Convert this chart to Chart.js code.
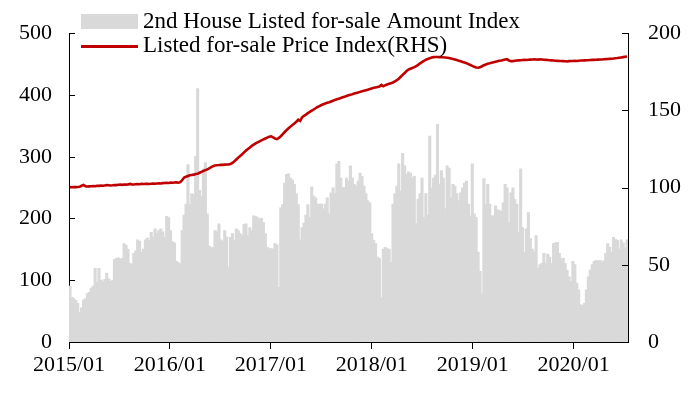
<!DOCTYPE html>
<html>
<head>
<meta charset="utf-8">
<script src="https://cdn.jsdelivr.net/npm/chart.js@4.4.0/dist/chart.umd.min.js"></script>
<style>
  html, body { margin: 0; padding: 0; background: #fff; }
  #wrap { width: 700px; height: 393px; }
</style>
</head>
<body>
<div id="wrap"><canvas id="chart"></canvas></div>
<script>
// Axis tick labels (one per January) and week spacing of those ticks
const yearLabels = ['2015/01', '2016/01', '2017/01', '2018/01', '2019/01', '2020/01'];
const weeksPerYear = 52.18;

// Weekly 2nd House Listed for-sale Amount Index (left axis)
const amount2015 = [90, 72, 70, 67, 62, 47, 55, 68, 70, 78,
  80, 87, 90, 119, 96, 119, 100, 97, 101, 111,
  102, 98, 100, 133, 135, 136, 134, 135, 159, 156,
  150, 127, 125, 143, 147, 165, 163, 145, 150, 165,
  168, 164, 177, 169, 183, 176, 180, 183, 178, 169,
  203, 201];
const amount2016 = [180, 162, 160, 130, 128, 126, 180, 205, 223, 287,
  222, 240, 238, 300, 410, 245, 235, 280, 290, 207,
  155, 152, 153, 180, 178, 191, 165, 163, 180, 170,
  121, 169, 175, 164, 183, 180, 175, 172, 190, 191,
  172, 185, 180, 204, 203, 201, 199, 200, 193, 175,
  153, 151];
const amount2017 = [151, 150, 159, 157, 88, 217, 222, 257, 271, 272,
  265, 262, 255, 240, 222, 165, 185, 192, 205, 222,
  201, 251, 236, 233, 223, 223, 223, 215, 223, 233,
  207, 241, 249, 240, 288, 292, 265, 249, 250, 265,
  260, 285, 265, 255, 252, 260, 273, 268, 252, 240,
  228, 225];
const amount2018 = [175, 164, 159, 137, 135, 71, 150, 153, 151, 150,
  128, 223, 240, 252, 288, 244, 305, 285, 271, 275,
  273, 265, 268, 191, 231, 240, 265, 201, 240, 205,
  333, 249, 265, 270, 352, 255, 277, 265, 215, 285,
  281, 233, 255, 252, 240, 228, 241, 249, 257, 260,
  223, 204];
const amount2019 = [288, 207, 201, 145, 114, 78, 264, 223, 255, 223,
  204, 204, 220, 214, 212, 212, 225, 255, 249, 193,
  241, 249, 230, 223, 177, 280, 185, 145, 183, 209,
  167, 150, 145, 172, 119, 125, 127, 143, 127, 142,
  137, 127, 159, 160, 161, 143, 135, 135, 127, 116,
  105, 98];
const amount2020 = [130, 125, 95, 84, 60, 59, 62, 84, 105, 116,
  125, 130, 132, 131, 132, 129, 131, 143, 159, 153,
  145, 169, 166, 164, 150, 165, 160, 152, 165];

// Weekly Listed for-sale Price Index (right axis)
const price2015 = [100.3, 100.2, 100.4, 100.3, 100.4, 100.5, 101.2, 101.7, 100.9, 100.7,
  100.8, 100.9, 101.0, 100.9, 101.2, 101.1, 101.3, 101.2, 101.4, 101.6,
  101.5, 101.4, 101.5, 101.7, 101.6, 101.8, 101.9, 101.8, 102.0, 101.9,
  102.0, 102.4, 102.1, 102.0, 102.2, 102.3, 102.2, 102.4, 102.3, 102.5,
  102.4, 102.3, 102.5, 102.6, 102.5, 102.7, 102.8, 102.7, 102.9, 103.0,
  103.1, 103.0];
const price2016 = [103.2, 103.1, 103.3, 103.4, 103.2, 103.5, 104.8, 106.5, 107.0, 107.5,
  108.0, 108.2, 108.4, 108.8, 109.0, 109.6, 110.2, 110.8, 111.3, 111.8,
  112.5, 113.2, 113.9, 114.3, 114.5, 114.6, 114.8, 114.7, 114.9, 115.0,
  115.0, 115.3, 116.0, 117.0, 118.2, 119.4, 120.5, 121.6, 122.8, 124.0,
  125.0, 126.0, 127.0, 127.8, 128.6, 129.3, 130.0, 130.6, 131.2, 131.8,
  132.4, 133.0];
const price2017 = [133.2, 132.5, 131.8, 131.4, 132.2, 133.3, 134.6, 136.0, 137.2, 138.4,
  139.5, 140.6, 141.5, 142.6, 144.0, 143.2, 145.5, 146.5, 147.3, 148.2,
  149.0, 149.8, 150.6, 151.4, 152.2, 152.8, 153.5, 154.0, 154.5, 154.9,
  155.3, 155.8, 156.3, 156.8, 157.2, 157.6, 158.0, 158.5, 158.9, 159.3,
  159.8, 160.2, 160.5, 160.9, 161.3, 161.6, 162.0, 162.4, 162.7, 163.0,
  163.4, 163.8];
const price2018 = [164.2, 164.6, 164.9, 165.2, 165.5, 166.5, 165.6, 166.3, 166.8, 167.2,
  167.6, 168.0, 168.8, 169.6, 170.5, 171.8, 173.0, 174.2, 175.5, 176.4,
  177.0, 177.5, 178.0, 178.6, 179.5, 180.5, 181.3, 182.0, 182.8, 183.3,
  183.8, 184.2, 184.5, 184.6, 184.6, 184.5, 184.6, 184.4, 184.3, 184.1,
  183.9, 183.6, 183.3, 183.0, 182.6, 182.2, 181.8, 181.4, 181.0, 180.6,
  180.0, 179.4];
const price2019 = [178.8, 178.2, 177.8, 177.6, 177.9, 178.6, 179.2, 179.7, 180.2, 180.5,
  180.9, 181.2, 181.5, 181.8, 182.1, 182.3, 182.6, 182.9, 183.2, 182.3,
  181.9, 181.9, 182.1, 182.3, 182.4, 182.5, 182.6, 182.7, 182.6, 182.8,
  182.9, 183.0, 183.1, 183.0, 182.9, 183.1, 183.0, 182.8, 182.7, 182.6,
  182.5, 182.4, 182.3, 182.2, 182.1, 182.0, 182.0, 181.9, 181.8, 181.7,
  181.9, 182.0];
const price2020 = [182.0, 182.1, 182.0, 182.2, 182.3, 182.3, 182.4, 182.5, 182.5, 182.6,
  182.7, 182.7, 182.8, 182.9, 183.0, 183.0, 183.1, 183.2, 183.3, 183.4,
  183.5, 183.6, 183.8, 183.9, 184.1, 184.3, 184.5, 184.7, 184.9];

const amount = [].concat(amount2015, amount2016, amount2017, amount2018, amount2019, amount2020);
const price = [].concat(price2015, price2016, price2017, price2018, price2019, price2020);

const FONT = "'Liberation Serif', 'Times New Roman', serif";
Chart.defaults.font.family = FONT;
Chart.defaults.font.size = 22;
Chart.defaults.color = '#000';

// legend box drawn top-left inside the plot, stacked vertically
const boxLegend = {
  id: 'boxLegend',
  afterDraw(chart) {
    const { ctx, chartArea } = chart;
    const ds = chart.data.datasets;
    const x = chartArea.left + 12;
    ctx.save();
    ctx.font = '23px ' + FONT;
    ctx.textBaseline = 'middle';
    ctx.fillStyle = ds[1].backgroundColor;
    ctx.fillRect(x, 14, 57, 15);
    ctx.strokeStyle = ds[0].borderColor;
    ctx.lineWidth = 3;
    ctx.beginPath();
    ctx.moveTo(x, 46.5);
    ctx.lineTo(x + 57, 46.5);
    ctx.stroke();
    ctx.fillStyle = '#000';
    ctx.fillText(ds[1].label, x + 62, 22);
    ctx.fillText(ds[0].label, x + 62, 46);
    ctx.restore();
  }
};

// y-axis tick marks pointing into the plot
const innerTicks = {
  id: 'innerTicks',
  afterDatasetsDraw(chart) {
    const { ctx, scales } = chart;
    ctx.save();
    ctx.strokeStyle = '#000';
    ctx.lineWidth = 1;
    ctx.beginPath();
    scales.y.ticks.forEach(t => {
      const py = Math.round(scales.y.getPixelForValue(t.value)) + 0.5;
      ctx.moveTo(scales.y.right, py);
      ctx.lineTo(scales.y.right + 6, py);
    });
    scales.y1.ticks.forEach(t => {
      const py = Math.round(scales.y1.getPixelForValue(t.value)) + 0.5;
      ctx.moveTo(scales.y1.left - 6, py);
      ctx.lineTo(scales.y1.left, py);
    });
    ctx.stroke();
    ctx.restore();
  }
};

new Chart(document.getElementById('chart'), {
  data: {
    datasets: [
      {
        type: 'line',
        label: 'Listed for-sale Price Index(RHS)',
        data: price.map((v, i) => ({ x: i + 0.5, y: v })),
        yAxisID: 'y1',
        borderColor: '#c00000',
        borderWidth: 2.6,
        pointRadius: 0,
        tension: 0,
        order: 0
      },
      {
        type: 'bar',
        label: '2nd House Listed for-sale Amount Index',
        data: amount.map((v, i) => ({ x: i + 0.5, y: v })),
        yAxisID: 'y',
        backgroundColor: '#d9d9d9',
        borderWidth: 0,
        barPercentage: 1,
        categoryPercentage: 1,
        inflateAmount: 0.6,
        order: 1
      }
    ]
  },
  options: {
    responsive: true,
    maintainAspectRatio: false,
    animation: false,
    layout: { padding: { top: 31, left: 0, right: 0, bottom: 0 } },
    plugins: { legend: { display: false }, tooltip: { enabled: false } },
    scales: {
      x: {
        type: 'linear',
        min: 0,
        max: amount.length,
        offset: false,
        afterBuildTicks: s => { s.ticks = yearLabels.map((_, k) => ({ value: k * weeksPerYear })); },
        afterFit: s => { s.height = 51; },
        ticks: {
          autoSkip: false,
          maxRotation: 0,
          padding: 3,
          callback: (v, i) => yearLabels[i]
        },
        grid: { display: true, drawOnChartArea: false, drawTicks: true, tickLength: 7, color: '#000', offset: false },
        border: { display: true, color: '#000', width: 1 }
      },
      y: {
        position: 'left',
        min: 0,
        max: 500,
        ticks: { stepSize: 100, padding: 17 },
        afterFit: s => { s.width = 69; },
        grid: { display: true, drawOnChartArea: false, drawTicks: false },
        border: { display: true, color: '#000', width: 1 }
      },
      y1: {
        position: 'right',
        min: 0,
        max: 200,
        ticks: { stepSize: 50, padding: 20 },
        afterFit: s => { s.width = 72; },
        grid: { display: true, drawOnChartArea: false, drawTicks: false },
        border: { display: true, color: '#000', width: 1 }
      }
    }
  },
  plugins: [innerTicks, boxLegend]
});
</script>
</body>
</html>
